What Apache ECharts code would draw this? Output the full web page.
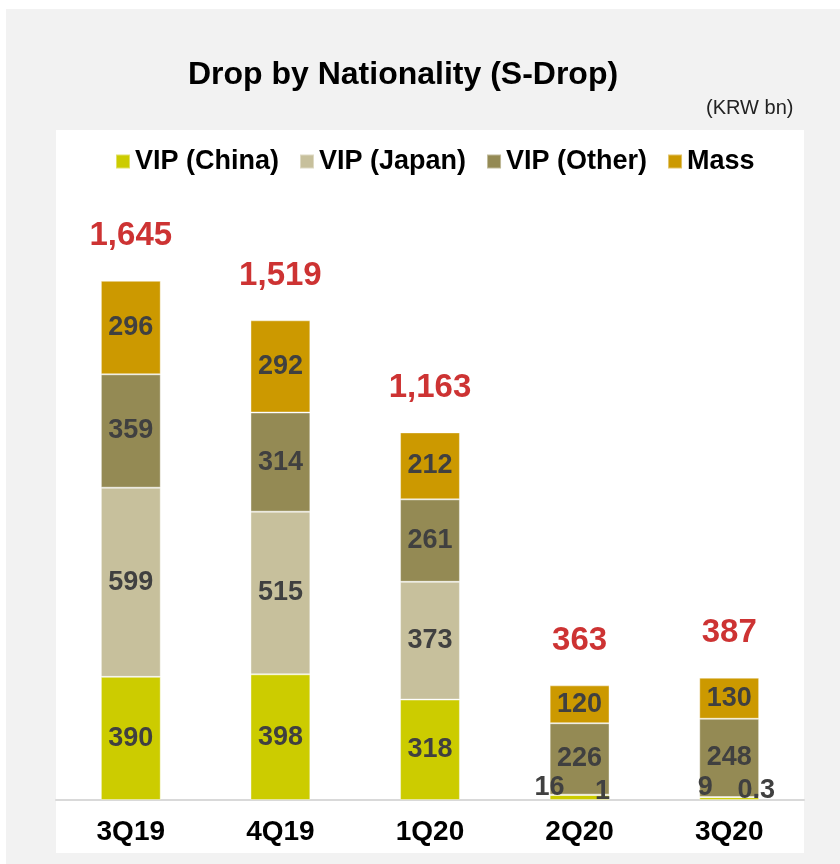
<!DOCTYPE html>
<html>
<head>
<meta charset="utf-8">
<style>
  html, body { margin: 0; padding: 0; background: #fff; }
  #chart { width: 840px; height: 864px; }
</style>
<script src="https://cdn.jsdelivr.net/npm/echarts@6/dist/echarts.min.js"></script>
</head>
<body>
<div id="chart"></div>
<script>
    // 季度 / 各国籍 drop 数据 (KRW bn)
    let quarters = ["3Q19", "4Q19", "1Q20", "2Q20", "3Q20"];
    let vipChina = [390, 398, 318, 16, 9];
    let vipJapan = [599, 515, 373, 1, 0.3];
    let vipOther = [359, 314, 261, 226, 248];
    let mass = [296, 292, 212, 120, 130];
    let totals = [1645, 1519, 1163, 363, 387];

    let font = "'Liberation Sans', Arial, sans-serif";
    let labelColor = "#404040";

    // 小数值的标签单独挪开
    let smallLabel = {
        "VIP (China)": {3: [-30, -10], 4: [-24, -11]},
        "VIP (Japan)": {3: [23, -3], 4: [27, -7]}
    };

    function makeData(name, arr) {
        return arr.map(function (v, i) {
            let off = smallLabel[name] && smallLabel[name][i];
            if (!off) return v;
            return {value: v, label: {position: "inside", offset: off}};
        });
    }

    function barSeries(name, arr, color) {
        return {
            name: name,
            type: "bar",
            stack: "drop",
            barWidth: "40%",
            data: makeData(name, arr),
            itemStyle: {color: color, borderColor: "rgba(255,255,255,0.4)", borderWidth: 1},
            label: {
                show: true,
                position: "inside",
                color: labelColor,
                fontFamily: font,
                fontWeight: "bold",
                fontSize: 27
            }
        };
    }

    let myChart = echarts.init(document.getElementById("chart"));
    let option = {
        animation: false,
        backgroundColor: "#fff",
        graphic: [
            {type: "rect", z: -10, shape: {x: 6, y: 9, width: 834, height: 855}, style: {fill: "#f2f2f2"}},
            {type: "rect", z: -9, shape: {x: 56, y: 130, width: 748, height: 723}, style: {fill: "#fff"}},
            {type: "text", left: 706, top: 98, style: {text: "(KRW bn)", fontFamily: font, fontSize: 20, fill: "#222"}}
        ],
        title: {
            text: "Drop by Nationality (S-Drop)",
            left: 398,
            textAlign: "center",
            top: 54,
            textStyle: {fontFamily: font, fontWeight: "bold", fontSize: 32, color: "#000"}
        },
        legend: {
            left: 115,
            top: 148,
            padding: 0,
            icon: "rect",
            itemWidth: 14,
            itemHeight: 14,
            itemGap: 20,
            textStyle: {fontFamily: font, fontWeight: "bold", fontSize: 27, color: "#000"},
            data: ["VIP (China)", "VIP (Japan)", "VIP (Other)", "Mass"]
        },
        grid: {left: 56, right: 36, top: 200, height: 600},
        xAxis: {
            type: "category",
            data: quarters,
            axisLine: {lineStyle: {color: "#d9d9d9", width: 2}},
            axisTick: {show: false},
            axisLabel: {fontFamily: font, fontWeight: "bold", fontSize: 28, color: "#000", margin: 18}
        },
        yAxis: {type: "value", min: 0, max: 1900, show: false},
        series: [
            barSeries("VIP (China)", vipChina, "#cccc00"),
            barSeries("VIP (Japan)", vipJapan, "#c7c09c"),
            barSeries("VIP (Other)", vipOther, "#948a54"),
            barSeries("Mass", mass, "#cc9900"),
            {
                name: "total",
                type: "scatter",
                symbolSize: 0,
                data: totals,
                silent: true,
                label: {
                    show: true,
                    position: "top",
                    distance: 28,
                    color: "#c00000",
                    fontFamily: font,
                    fontWeight: "bold",
                    fontSize: 33,
                    formatter: function (p) {
                        return p.value.toLocaleString("en-US");
                    }
                }
            }
        ]
    };
    myChart.setOption(option);
</script>
</body>
</html>
